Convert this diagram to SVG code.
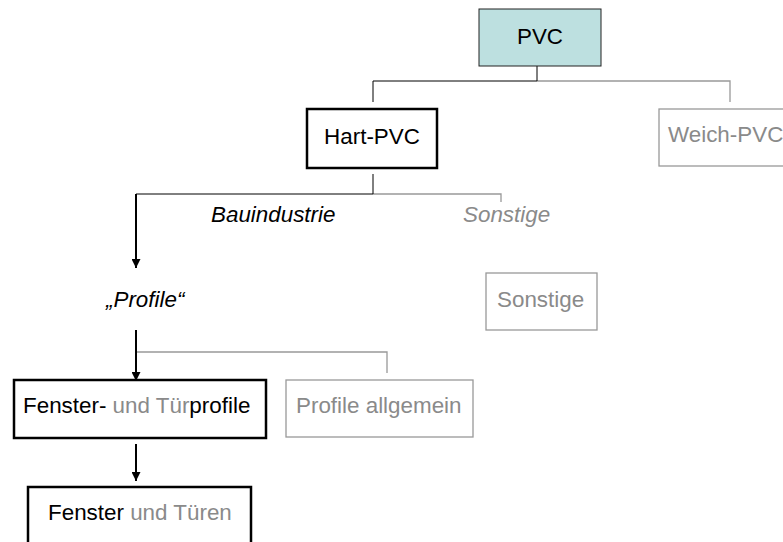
<svg xmlns="http://www.w3.org/2000/svg" width="783" height="542" viewBox="0 0 783 542">
<defs>
<style>
text{font-family:"Liberation Sans",Arial,sans-serif;font-size:22.4px;fill:#000}
.g{fill:#8a8a8a}
.i{font-style:italic}
.bk{fill:none;stroke:#000;stroke-width:1}
.gy{fill:none;stroke:#999;stroke-width:1.3}
.thick{fill:#fff;stroke:#000;stroke-width:2.5}
.thin{fill:#fff;stroke:#999;stroke-width:1.3}
.ar{fill:none;stroke:#000;stroke-width:2}
</style>
<marker id="ah" viewBox="0 0 10 10" refX="10" refY="5" markerWidth="4.5" markerHeight="4.5" orient="auto" markerUnits="strokeWidth">
<path d="M0,0 L10,5 L0,10 z" fill="#000"/>
</marker>
</defs>
<rect width="783" height="542" fill="#fff"/>
<g id="connectors">
<path class="gy" d="M537,81 H730 V102"/>
<path class="bk" d="M537,66 V81 H373 V102"/>
<path class="gy" d="M373,194 H501 V202"/>
<path class="bk" d="M373,174 V194 H136"/>
<path class="ar" d="M136,194 V268" marker-end="url(#ah)"/>
<path class="gy" d="M136,352 H387 V373"/>
<path class="ar" d="M136,330 V381" marker-end="url(#ah)"/>
<path class="ar" d="M136,444 V481" marker-end="url(#ah)"/>
</g>
<g id="pvc">
<rect x="479" y="9" width="122" height="57" fill="#bde0e0" stroke="#222" stroke-width="1"/>
<text x="540" y="44" text-anchor="middle">PVC</text>
</g>
<g id="hart-pvc">
<rect class="thick" x="307" y="109" width="130" height="59"/>
<text x="372" y="144" text-anchor="middle">Hart-PVC</text>
</g>
<g id="weich-pvc">
<rect class="thin" x="659" y="109" width="140" height="57"/>
<text class="g" x="668" y="142">Weich-PVC</text>
</g>
<g id="bauindustrie">
<text class="i" x="211" y="222">Bauindustrie</text>
</g>
<g id="sonstige-label">
<text class="i g" x="463" y="222">Sonstige</text>
</g>
<g id="profile-label">
<text class="i" x="106" y="307">„Profile“</text>
</g>
<g id="sonstige">
<rect class="thin" x="486" y="273" width="111" height="57"/>
<text class="g" x="497" y="307">Sonstige</text>
</g>
<g id="fenster-tuerprofile">
<rect class="thick" x="14" y="380" width="252" height="58"/>
<text x="23" y="413">Fenster- <tspan class="g">und Tür</tspan>profile</text>
</g>
<g id="profile-allgemein">
<rect class="thin" x="286" y="380" width="187" height="57"/>
<text class="g" x="296" y="413">Profile allgemein</text>
</g>
<g id="fenster-tueren">
<rect class="thick" x="28" y="487" width="223" height="70"/>
<text x="48" y="520">Fenster <tspan class="g">und Türen</tspan></text>
</g>
</svg>
